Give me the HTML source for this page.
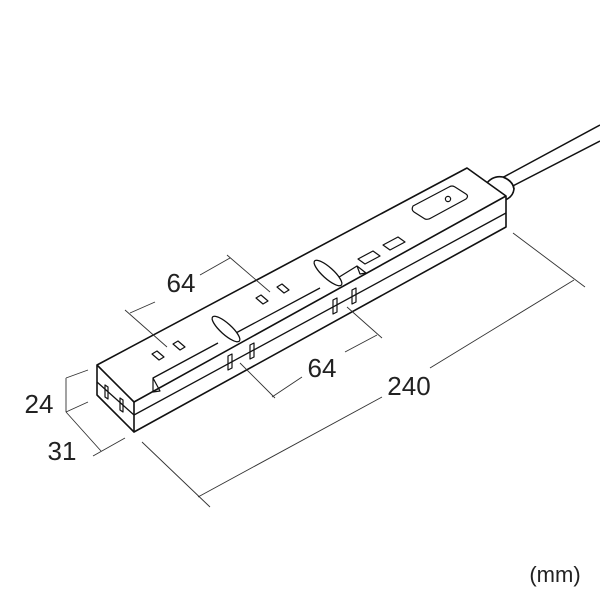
<!DOCTYPE html>
<html><head><meta charset="utf-8"><style>
html,body{margin:0;padding:0;background:#fff;}
svg{display:block;}
text{font-family:"Liberation Sans",sans-serif;fill:#222;}
</style></head><body>
<svg width="600" height="600" viewBox="0 0 600 600" xmlns="http://www.w3.org/2000/svg">
<g fill="none" stroke="#111" stroke-width="1.6" stroke-linejoin="round">
  <!-- cord -->
  <path d="M500,179 L600,125 M505,190 L600,141" stroke-width="1.5"/>
  <path d="M486,184 Q493,175 503,177 Q513,181 514,189 Q513,197 505,200" fill="#fff"/>
  <path d="M503,177 Q513,181 514,189" />
  <!-- box -->
  <path d="M97,365 L467,168 L506,196 L506,227 L134,432 L97,395 Z" fill="#fff"/>
  <path d="M97,365 L134,402 L506,196"/>
  <path d="M134,402 L134,432"/>
  <path d="M97,382 L134,415 L506,213" stroke-width="1.3"/>
  <!-- rib -->
  <path d="M153,378 L218,343 M234,334 L320,288 M336,279 L357,266" stroke-width="1.3"/>
  <path d="M153,378 L160,391 L153,392 Z M357,266 L366,273 L360,274 Z" stroke-width="1.2"/>
  <!-- ovals -->
  <ellipse cx="226" cy="329" rx="18" ry="5.5" transform="rotate(42 226 329)" fill="#fff" stroke-width="1.3"/>
  <ellipse cx="328" cy="273" rx="18" ry="5.5" transform="rotate(42 328 273)" fill="#fff" stroke-width="1.3"/>
  <!-- top slots -->
  <g stroke-width="1.2">
    <path d="M152,354 L157,351 L164,357 L159,360 Z"/>
    <path d="M173,344 L178,341 L185,347 L180,350 Z"/>
    <path d="M256,298 L261,295 L268,301 L263,304 Z"/>
    <path d="M277,287 L282,284 L289,290 L284,293 Z"/>
    <path d="M358,259 L373,251 L380,256 L365,264 Z"/>
    <path d="M383,245 L398,237 L405,242 L390,250 Z"/>
    <!-- switch -->
    <path d="M413,206 Q411,210 414,212 L425,219 Q428,220 431,218 L466,199 Q469,196 466,194 L455,187 Q452,185 449,187 Z"/>
    <circle cx="448" cy="199" r="2.6"/>
    <!-- side slots -->
    <path d="M228,356 L232,354 L232,368 L228,370 Z"/>
    <path d="M250,345 L254,343 L254,357 L250,359 Z"/>
    <path d="M333,300 L337,298 L337,312 L333,314 Z"/>
    <path d="M352,290 L356,288 L356,302 L352,304 Z"/>
    <!-- end slots -->
    <path d="M105,385 L108,387 L108,399 L105,397 Z"/>
    <path d="M120,398 L123,400 L123,412 L120,410 Z"/>
  </g>
</g>
<!-- dimension lines -->
<g fill="none" stroke="#333" stroke-width="0.9">
  <path d="M142,442 L210,507 M513,233 L585,287"/>
  <path d="M198,497 L382,397 M430,368 L574,280"/>
  <path d="M66,378 L66,412 M66,378 L88,370 M66,412 L88,402"/>
  <path d="M66,412 L101,451 M93,456 L125,438"/>
  <path d="M125,310 L167,347 M227,255 L270,292"/>
  <path d="M130,313 L155,302 M200,275 L230,258"/>
  <path d="M240,363 L275,398 M347,307 L382,338"/>
  <path d="M272,397 L302,377 M345,352 L377,335"/>
</g>
<g font-size="26">
  <text x="409" y="395" text-anchor="middle">240</text>
  <text x="181" y="292" text-anchor="middle">64</text>
  <text x="322" y="377" text-anchor="middle">64</text>
  <text x="39" y="413" text-anchor="middle">24</text>
  <text x="62" y="460" text-anchor="middle">31</text>
</g>
<text x="555" y="582" font-size="22" text-anchor="middle">(mm)</text>
</svg>
</body></html>
